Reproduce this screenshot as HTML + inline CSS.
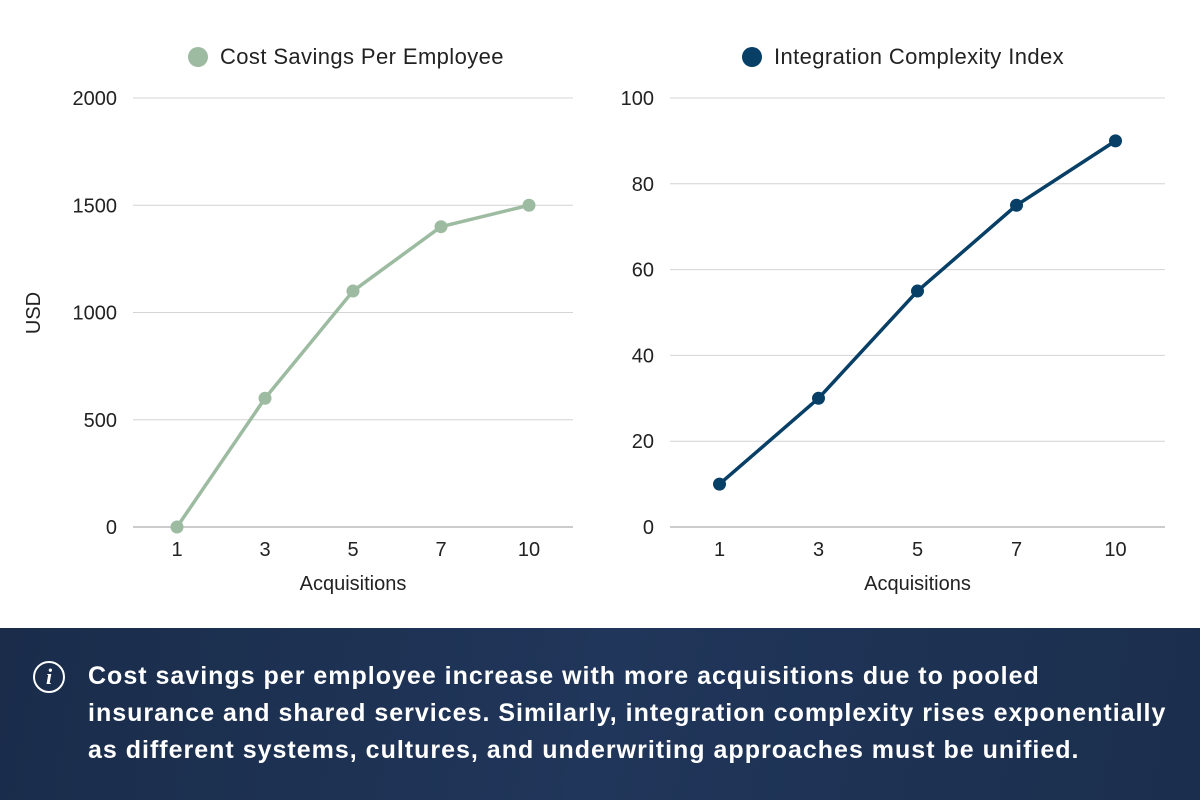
<!DOCTYPE html>
<html><head><meta charset="utf-8"><style>
body{margin:0;width:1200px;height:800px;overflow:hidden;background:#fff;font-family:"Liberation Sans",sans-serif}
svg{position:absolute;left:0;top:0}
#footer{position:absolute;left:0;top:628px;width:1200px;height:172px;background:linear-gradient(100deg,#1a2c4a 0%,#20365a 50%,#1b2e4d 100%)}
#note{position:absolute;left:88px;top:30px;width:1110px;color:#fff;font-weight:bold;font-size:25px;line-height:37px;letter-spacing:1px;white-space:nowrap}
#icon{position:absolute;left:33px;top:33px;width:28px;height:28px;border:2.5px solid #fff;border-radius:50%;color:#fff;font:italic bold 22px "Liberation Serif",serif;text-align:center;line-height:28px}
</style></head><body>
<svg id="chart" width="1200" height="628"></svg>
<div id="footer">
<div id="icon">i</div>
<div id="note">Cost savings per employee increase with more acquisitions due to pooled<br>insurance and shared services. Similarly, integration complexity rises exponentially<br>as different systems, cultures, and underwriting approaches must be unified.</div>
</div>
<script>
const categories=["1","3","5","7","10"];
const savingsValues=[0,600,1100,1400,1500];
const complexityValues=[10,30,55,75,90];
const savingsTicks=[0,500,1000,1500,2000];
const complexityTicks=[0,20,40,60,80,100];
const NS="http://www.w3.org/2000/svg";
const svg=document.getElementById('chart');
function mk(tag,attrs,parent){const e=document.createElementNS(NS,tag);for(const k in attrs)e.setAttribute(k,attrs[k]);(parent||svg).appendChild(e);return e;}
function txt(s,attrs){const e=mk('text',Object.assign({'font-family':'Liberation Sans, sans-serif','font-size':'20','fill':'#222'},attrs));e.textContent=s;return e;}
function drawChart(cfg){
  const g=mk('g',{});
  
  
  const y0=527,y1=98,max=cfg.ticks[cfg.ticks.length-1];
  const ys=v=>y0-(v/max)*(y0-y1);
  const band=(cfg.x1-cfg.x0)/categories.length;
  const xs=i=>cfg.x0+band*(i+0.5);
  cfg.ticks.forEach(t=>{
    const l=mk('line',{x1:cfg.x0,x2:cfg.x1,y1:ys(t),y2:ys(t),stroke:t===0?'#999':'#d4d4d4','stroke-width':1},g);
    
    
    const tl=txt(String(t),{x:cfg.x0-16,y:ys(t)+7,'text-anchor':'end'});
    
    
  });
  categories.forEach((c,i)=>{
    const t=txt(c,{x:xs(i),y:556,'text-anchor':'middle'});
    
    
  });
  const xt=txt('Acquisitions',{x:(cfg.x0+cfg.x1)/2,y:590,'text-anchor':'middle'});
  
  
  const pts=cfg.values.map((v,i)=>xs(i)+','+ys(v)).join(' ');
  const pl=mk('polyline',{points:pts,fill:'none',stroke:cfg.color,'stroke-width':3.5,'stroke-linejoin':'round'},g);
  
  
  cfg.values.forEach((v,i)=>{
    const c=mk('circle',{cx:xs(i),cy:ys(v),r:6.5,fill:cfg.color},g);
    
    
  });
  const lc=mk('circle',{cx:cfg.legX,cy:57,r:10,fill:cfg.color},g);
  
  
  const lt=txt(cfg.label,{x:cfg.legX+22,y:64,'font-size':'22','letter-spacing':'0.4'});
  
  
}
drawChart({name:'cost-savings-chart',x0:133,x1:573,ticks:savingsTicks,values:savingsValues,color:'#9dbba1',label:'Cost Savings Per Employee',legX:198});
drawChart({name:'complexity-chart',x0:670,x1:1165,ticks:complexityTicks,values:complexityValues,color:'#073f66',label:'Integration Complexity Index',legX:752});
const yt=txt('USD',{x:0,y:0,'text-anchor':'middle',transform:'translate(40,313) rotate(-90)'});


</script>
</body></html>
